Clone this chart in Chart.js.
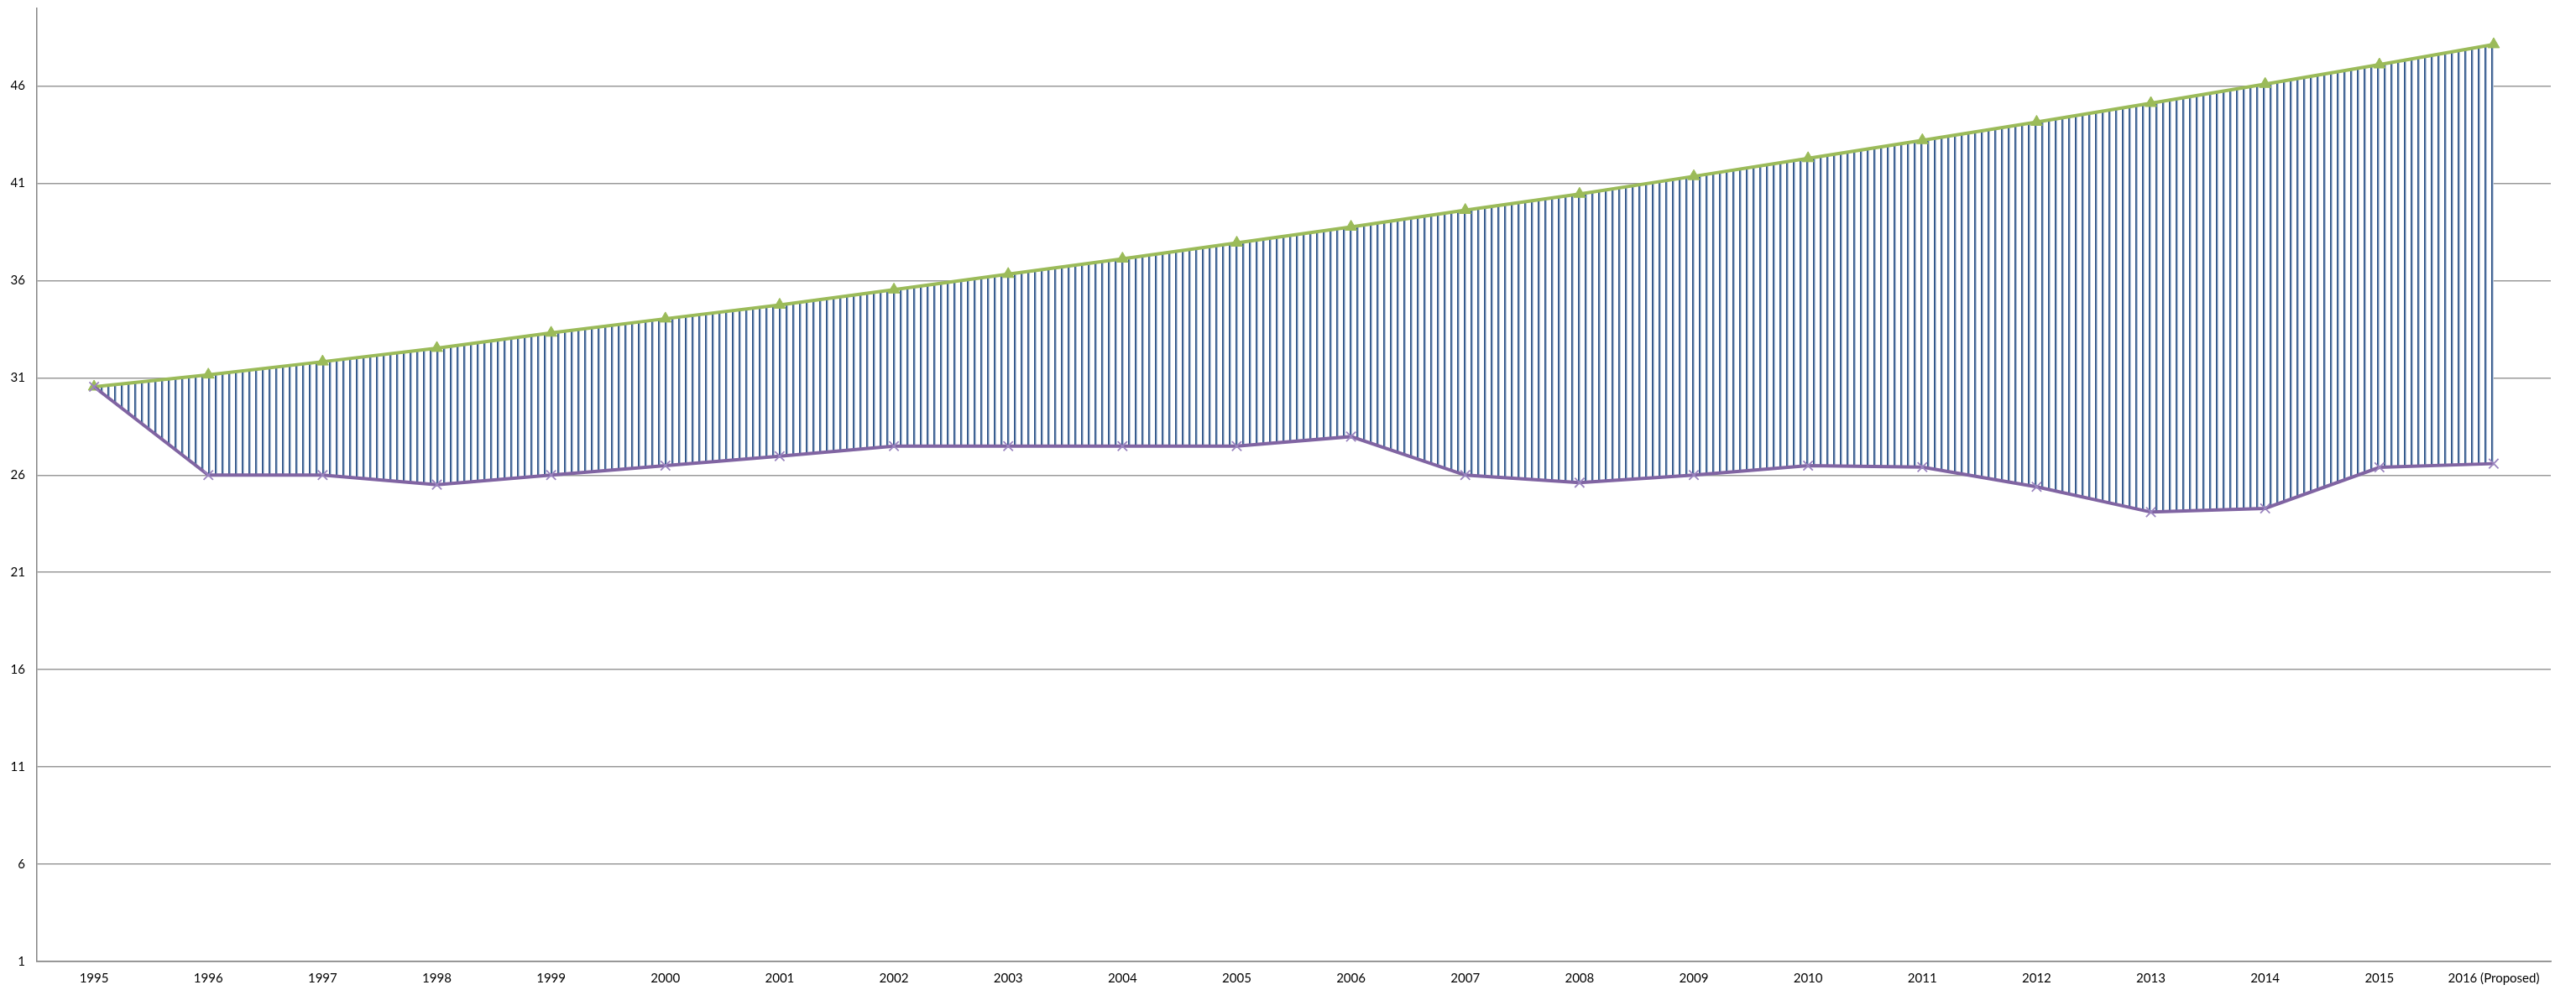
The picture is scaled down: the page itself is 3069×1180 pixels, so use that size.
<!DOCTYPE html>
<html>
<head>
<meta charset="utf-8">
<script src="https://cdn.jsdelivr.net/npm/chart.js@4"></script>
<style>
  html, body { margin: 0; padding: 0; background: #ffffff; }
  #wrap { width: 3069px; height: 1180px; }
</style>
</head>
<body>
<div id="wrap"><canvas id="c" width="3069" height="1180"></canvas></div>
<script>
const categories = ['1995','1996','1997','1998','1999','2000','2001','2002','2003','2004','2005','2006','2007','2008','2009','2010','2011','2012','2013','2014','2015','2016 (Proposed)'];
const upperValues = [30.54, 31.16, 31.83, 32.53, 33.31, 34.04, 34.75, 35.53, 36.33, 37.12, 37.94, 38.76, 39.62, 40.45, 41.36, 42.28, 43.21, 44.15, 45.12, 46.10, 47.10, 48.14];
const lowerValues = [30.54, 26.0, 26.0, 25.51, 26.0, 26.49, 26.97, 27.49, 27.49, 27.49, 27.49, 27.98, 26.0, 25.61, 26.0, 26.49, 26.41, 25.40, 24.10, 24.29, 26.40, 26.59];
const yTickValues = [1, 6, 11, 16, 21, 26, 31, 36, 41, 46];
const yMin = 1;
const yMax = 50;

// vertical hatch pattern
function makePattern() {
  const p = document.createElement('canvas');
  p.width = 8; p.height = 4;
  const g = p.getContext('2d');
  g.fillStyle = '#ffffff';
  g.fillRect(0, 0, 8, 4);
  g.fillStyle = '#24497e'; g.fillRect(0, 0, 1, 4);
  g.fillStyle = '#5d7eaa'; g.fillRect(1, 0, 1, 4);
  g.fillStyle = '#b9c7da'; g.fillRect(2, 0, 1, 4);
  return g.createPattern(p, 'repeat');
}
const ctx = document.getElementById('c').getContext('2d');
const hatch = makePattern();

new Chart(ctx, {
  type: 'line',
  data: {
    labels: categories,
    datasets: [
      {
        label: 'Upper',
        data: upperValues,
        borderColor: '#9bbb59',
        borderWidth: 4,
        backgroundColor: hatch,
        fill: '+1',
        tension: 0,
        pointStyle: 'triangle',
        pointRadius: 8,
        pointBackgroundColor: '#9bbb59',
        pointBorderColor: '#9bbb59',
        pointBorderWidth: 1,
        order: 1
      },
      {
        label: 'Lower',
        data: lowerValues,
        borderColor: '#8064a2',
        borderWidth: 4,
        fill: false,
        tension: 0,
        pointStyle: 'crossRot',
        pointRadius: 8,
        pointBorderColor: '#9a84bf',
        pointBorderWidth: 1.8,
        order: 0
      }
    ]
  },
  options: {
    responsive: false,
    animation: false,
    devicePixelRatio: 1,
    layout: { padding: { top: 9, right: 30, left: 0, bottom: 0 } },
    plugins: { legend: { display: false }, tooltip: { enabled: false } },
    scales: {
      x: {
        type: 'category',
        offset: true,
        grid: { display: false, drawTicks: false },
        border: { display: true, color: '#868686', width: 1.5 },
        ticks: {
          color: '#000000',
          font: { family: 'Lato', size: 15 },
          maxRotation: 0,
          autoSkip: false,
          padding: 11
        },
        afterFit: (s) => { s.height = 34; s.paddingLeft = 0; s.paddingRight = 0; }
      },
      y: {
        min: yMin,
        max: yMax,
        grid: { color: '#999999', lineWidth: 1.5, drawTicks: false },
        border: { display: true, color: '#868686', width: 1.5 },
        ticks: {
          color: '#000000',
          font: { family: 'Lato', size: 15 },
          padding: 14
        },
        afterBuildTicks: (s) => { s.ticks = yTickValues.map(v => ({ value: v })); },
        afterFit: (s) => { s.width = 44; s.paddingTop = 0; s.paddingBottom = 0; }
      }
    }
  }
});
</script>
</body>
</html>
